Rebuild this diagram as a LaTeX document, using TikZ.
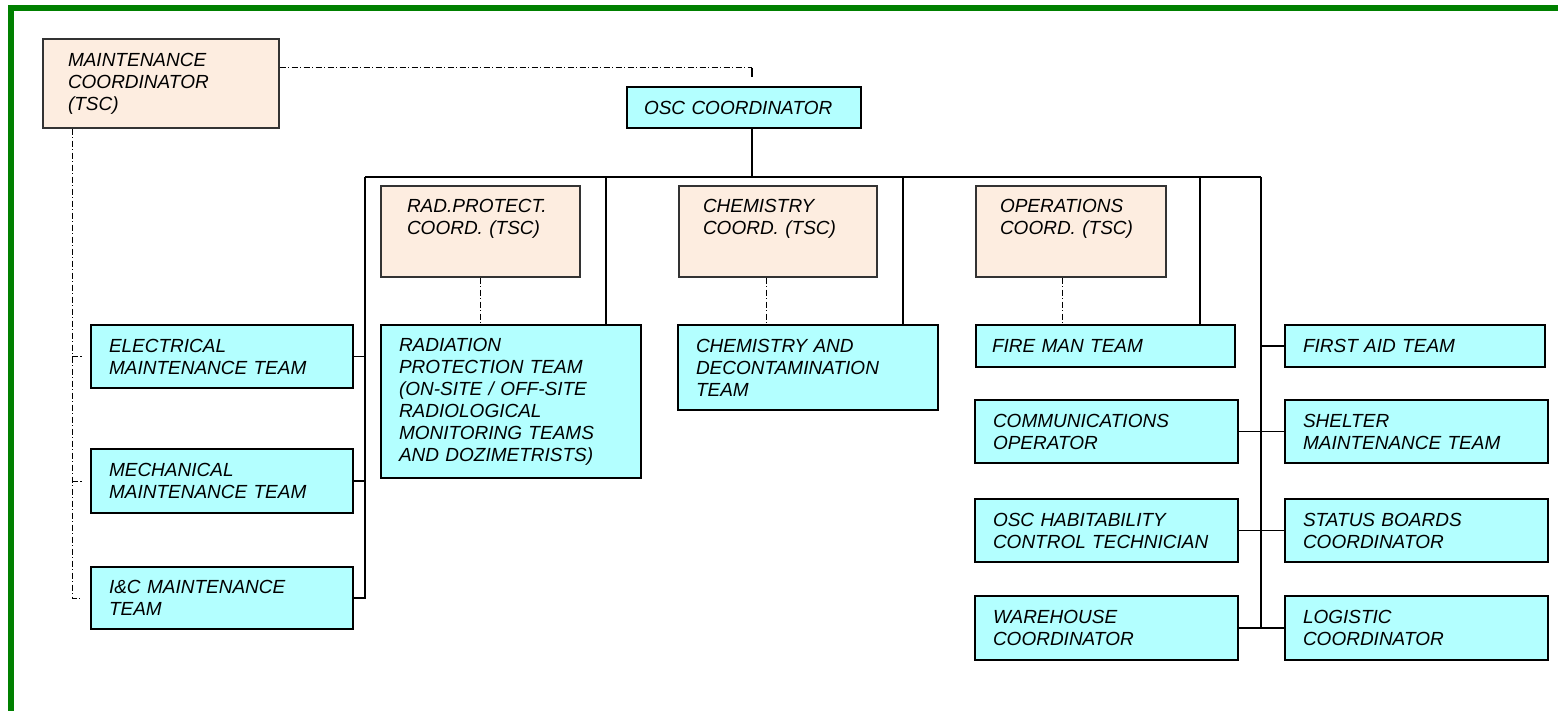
\documentclass[tikz,border=0pt]{standalone}
\usepackage{fontspec}
\setmainfont{Liberation Sans}
\usepackage{tikz}
\definecolor{teamcyan}{RGB}{179,255,255}
\definecolor{tscpeach}{RGB}{253,237,224}
\definecolor{framegreen}{RGB}{0,128,0}
\tikzset{
  chart/.style={font=\fontsize{9.5}{11}\selectfont\itshape, align=left, inner sep=0pt},
  team/.style={chart, draw=black, line width=1.2pt, fill=teamcyan, inner xsep=9pt, text width=113pt},
  tsc/.style={chart, draw=black!80, line width=0.7pt, fill=tscpeach, inner xsep=12.5pt, minimum height=45.5pt},
  link/.style={line width=0.8pt},
  tsclink/.style={line width=0.5pt, dash pattern=on 3pt off 1.2pt on 0.6pt off 1.2pt}
}

\begin{document}
\begin{tikzpicture}[x=0.5pt,y=-0.5pt]
            \clip (0,0) rectangle (1558,711);
            \draw[framegreen, line width=3pt] (10.5,8.5) rectangle (1620,760);
            % coordinators
            \node[tsc, text width=93pt, minimum height=44.5pt] (maint) at (161,83.5) {MAINTENANCE\\COORDINATOR\\(TSC)};
            \node[team, text width=100pt, inner xsep=8.5pt, minimum height=20.5pt] (osc) at (744,107.5) {OSC COORDINATOR};
            \node[tsc, text width=73.5pt, inner xsep=13pt] (radc) at (480.5,231.5) {RAD.PROTECT.\\COORD. (TSC)\\\strut};
            \node[tsc, text width=75pt, inner xsep=12pt] (chemc) at (778,231.5) {CHEMISTRY\\COORD. (TSC)\\\strut};
            \node[tsc, text width=71pt, inner xsep=12pt] (opsc) at (1071,231.5) {OPERATIONS\\COORD. (TSC)\\\strut};
            % teams
            \node[team, minimum height=31.5pt] (elec) at (222,356.5) {ELECTRICAL\\MAINTENANCE TEAM};
            \node[team, minimum height=32pt] (mech) at (222,481) {MECHANICAL\\MAINTENANCE TEAM};
            \node[team, minimum height=31pt] (ic) at (222,598) {I\&C MAINTENANCE\\TEAM};
            \node[team, text width=112pt, minimum height=76.5pt] (rad) at (511,401.5) {RADIATION\\PROTECTION TEAM\\(ON-SITE / OFF-SITE\\RADIOLOGICAL\\MONITORING TEAMS\\AND DOZIMETRISTS)};
            \node[team, text width=112pt, minimum height=42.5pt] (chem) at (808,367.5) {CHEMISTRY AND\\DECONTAMINATION\\TEAM};
            \node[team, text width=113.5pt, inner xsep=8pt, minimum height=21pt] (fire) at (1105.5,346) {FIRE MAN TEAM};
            \node[team, text width=113.5pt, minimum height=31.5pt] (comm) at (1106.5,431.5) {COMMUNICATIONS\\OPERATOR};
            \node[team, text width=113.5pt, minimum height=31.5pt] (habit) at (1106.5,530.5) {OSC HABITABILITY\\CONTROL TECHNICIAN};
            \node[team, text width=113.5pt, minimum height=32pt] (ware) at (1106.5,628) {WAREHOUSE\\COORDINATOR};
            \node[team, text width=112pt, inner xsep=9pt, minimum height=21pt] (aid) at (1415,346) {FIRST AID TEAM};
            \node[team, text width=113.5pt, minimum height=31.5pt] (shelter) at (1416.5,431.5) {SHELTER\\MAINTENANCE TEAM};
            \node[team, text width=113.5pt, minimum height=31.5pt] (status) at (1416.5,530.5) {STATUS BOARDS\\COORDINATOR};
            \node[team, text width=113.5pt, minimum height=32pt] (logi) at (1416.5,628) {LOGISTIC\\COORDINATOR};
            % buses
            \coordinate (oscin) at ([xshift=4pt]osc.north);
            \coordinate (mtop) at ([yshift=9pt]oscin);
            \coordinate (mleft) at (72,0);
            \coordinate (lbus) at (365,177);
            \coordinate (rbus) at (1261,177);
            \draw[tsclink] (maint.east |- mtop) -- (mtop);
            \draw[link] (mtop) -- ([yshift=4.5pt]oscin);
            \draw[link] ([xshift=4pt]osc.south) -- ([xshift=4pt]osc.south |- lbus);
            \draw[link] (lbus) -- (rbus);
            \draw[link] (lbus) |- (ic.east);
            \foreach \t in {elec,mech}
                \draw[link] (\t.east) -- (\t.east -| lbus);
            \foreach \t in {rad,chem,fire} {
                \coordinate (teamtop) at ([xshift=-18pt]\t.north east);
                \draw[link] (teamtop) -- (teamtop |- lbus);
            }
            \draw[link] (rbus) |- (logi.west);
            \draw[link] (aid.west) -- (aid.west -| rbus);
            \draw[link] (comm.east) -- (shelter.west);
            \draw[link] (habit.east) -- (status.west);
            \draw[link] (ware.east) -- (logi.west);
            % tsc links
            \draw[tsclink] (maint.south -| mleft) |- ([xshift=-4pt]ic.west);
            \foreach \t in {elec,mech}
                \draw[tsclink] (\t.west -| mleft) -- ([xshift=-4pt]\t.west);
            \foreach \c/\t/\s in {radc/rad/0pt, chemc/chem/-6pt, opsc/fire/-4.5pt} {
                \coordinate (tscfoot) at ([xshift=\s]\c.south);
                \draw[tsclink] (tscfoot) -- (tscfoot |- \t.north);
            }
        \end{tikzpicture}
\end{document}
